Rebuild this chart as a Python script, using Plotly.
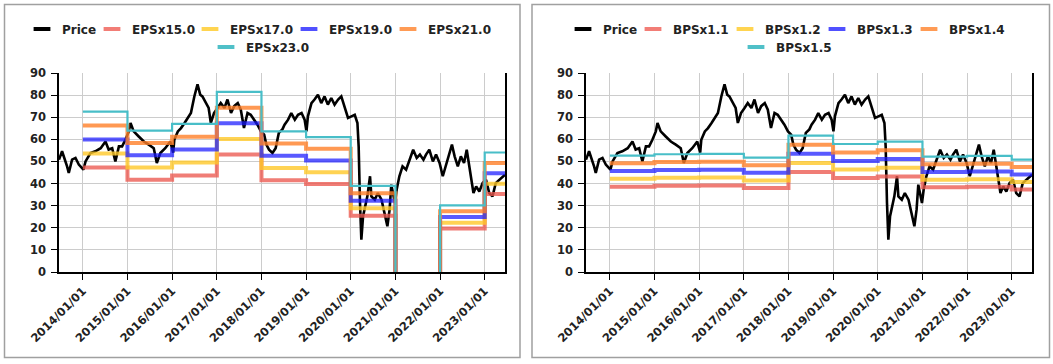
import plotly.graph_objects as go

# ---------------- data ----------------
price_dates = [
    "2013-06-20", "2013-07-15", "2013-08-25", "2013-09-08", "2013-10-05", "2013-11-02", "2013-11-29",
    "2014-01-06", "2014-01-23", "2014-03-04", "2014-04-13", "2014-05-27", "2014-07-05", "2014-07-31",
    "2014-08-29", "2014-09-24", "2014-10-23", "2014-11-18", "2014-12-15",
    "2015-01-12", "2015-01-26", "2015-02-21", "2015-04-01", "2015-05-15", "2015-06-24", "2015-08-04",
    "2015-08-29", "2015-09-27", "2015-11-06", "2015-12-17",
    "2016-01-10", "2016-01-19", "2016-02-17", "2016-03-14", "2016-04-12", "2016-05-08", "2016-06-03",
    "2016-07-01", "2016-07-27", "2016-08-18", "2016-09-05", "2016-09-27", "2016-10-26", "2016-11-13",
    "2016-12-09",
    "2017-01-07", "2017-02-02", "2017-03-04", "2017-03-29", "2017-04-27", "2017-05-23", "2017-06-21",
    "2017-07-16", "2017-08-11", "2017-09-09", "2017-10-05", "2017-11-03", "2017-11-29", "2017-12-28",
    "2018-01-23", "2018-02-10", "2018-03-04", "2018-04-01", "2018-04-27", "2018-05-23", "2018-06-21",
    "2018-07-09", "2018-08-07", "2018-09-02", "2018-10-01", "2018-10-27", "2018-11-25", "2018-12-20",
    "2019-01-04", "2019-01-16", "2019-02-14", "2019-03-11", "2019-04-08", "2019-05-05", "2019-06-01",
    "2019-06-28", "2019-07-26", "2019-08-22", "2019-09-20", "2019-10-16", "2019-11-13", "2019-12-10",
    "2020-01-07", "2020-02-03", "2020-02-25", "2020-03-06", "2020-03-17", "2020-03-28", "2020-04-11",
    "2020-04-24", "2020-05-16", "2020-06-07", "2020-06-18", "2020-07-16", "2020-08-10", "2020-09-09",
    "2020-10-05", "2020-10-27", "2020-11-14", "2020-11-28", "2020-12-28",
    "2021-01-11", "2021-02-02", "2021-02-28", "2021-03-29", "2021-04-24", "2021-05-26", "2021-06-24",
    "2021-07-20", "2021-08-18", "2021-09-08", "2021-10-05", "2021-11-03", "2021-11-29", "2021-12-28",
    "2022-01-23", "2022-02-17", "2022-03-18", "2022-04-08", "2022-04-30", "2022-05-26", "2022-06-20",
    "2022-07-16", "2022-08-07", "2022-09-02", "2022-10-01", "2022-10-23", "2022-11-18", "2022-12-15",
    "2023-01-12", "2023-02-07", "2023-03-06", "2023-04-01", "2023-04-30", "2023-06-16",
]
price = [
    50.8, 54.6, 47.8, 44.8, 50.8, 51.6, 48.6,
    46.3, 50.0, 53.8, 54.6, 56.0, 59.0, 55.4,
    56.0, 50.0, 56.8, 56.8, 59.8,
    63.6, 67.4, 63.6, 61.4, 59.0, 57.6, 56.0,
    49.3, 53.8, 56.0, 59.0,
    54.0, 59.8, 63.6, 65.1, 67.4, 69.7, 71.9,
    79.4, 84.9, 80.2, 79.4, 77.2, 74.2, 67.4,
    71.9,
    74.2, 76.4, 74.2, 78.0, 71.9, 75.0, 76.4,
    73.4, 65.1, 71.9, 71.1, 68.9, 66.6, 63.6,
    62.1, 57.6, 55.3, 53.8, 56.0, 62.9, 64.5,
    66.6, 68.9, 71.9, 68.9, 71.1, 71.9, 68.9,
    63.6, 70.4, 76.4, 78.0, 80.2, 76.4, 79.4,
    75.7, 78.7, 75.7, 78.0, 79.4, 74.2, 69.7,
    70.4, 71.1, 67.4, 56.8, 31.2, 14.6, 25.2,
    28.2, 34.2, 43.3, 34.2, 32.7, 35.7, 32.7,
    26.7, 20.7, 28.2, 39.5, 31.2,
    37.3, 43.3, 47.8, 46.3, 50.8, 55.3, 51.6,
    53.1, 50.8, 53.1, 55.3, 50.0, 53.1, 49.3,
    43.3, 47.8, 53.8, 57.6, 52.3, 47.8, 52.3,
    49.3, 55.3, 46.3, 35.7, 38.7, 36.4, 40.2,
    41.7, 35.7, 34.2, 40.2, 41.7, 44.0,
]

period_starts = ["2014-01-01", "2015-01-01", "2016-01-01", "2017-01-01", "2018-01-01",
                 "2019-01-01", "2020-01-01", "2021-01-01", "2022-01-01", "2023-01-01"]
period_end = "2023-06-16"
eps = [3.153, 2.78, 2.913, 3.54, 2.765, 2.653, 1.695, -0.5, 1.31, 2.35]
eps_mult = [15.0, 17.0, 19.0, 21.0, 23.0]
bps = [35.1, 35.5, 35.6, 34.5, 41.1, 38.6, 39.3, 34.8, 35.0, 33.9]
bps_mult = [1.1, 1.2, 1.3, 1.4, 1.5]
tick_dates = ["2014-01-01", "2015-01-01", "2016-01-01", "2017-01-01", "2018-01-01",
              "2019-01-01", "2020-01-01", "2021-01-01", "2022-01-01", "2023-01-01"]
x_start = "2013-06-20"

# ---------------- styles ----------------
W, H = 1053, 364
line_colors = ["rgba(236,88,80,0.78)", "rgba(255,200,40,0.8)", "rgba(25,25,255,0.72)",
               "rgba(255,128,40,0.8)", "rgb(72,190,200)"]
swatch_colors = ["rgb(242,125,118)", "rgb(255,212,80)", "rgb(80,80,255)",
                 "rgb(255,155,85)", "rgb(80,192,200)"]
line_widths = [4, 4, 4, 4, 2.2]
FONT = "DejaVu Sans"
TXT = "#222222"

fig = go.Figure()

step_x = period_starts + [period_end]


def add_panel(xa, ya, base, mults, label, legend_ids):
    fig.add_trace(go.Scatter(x=price_dates, y=price, mode="lines", xaxis=xa, yaxis=ya,
                             line=dict(color="black", width=2.6), showlegend=False, name="Price"))
    for i, m in enumerate(mults):
        vals = [b * m for b in base]
        fig.add_trace(go.Scatter(x=step_x, y=vals + [vals[-1]], mode="lines", xaxis=xa, yaxis=ya,
                                 line=dict(color=line_colors[i], width=line_widths[i], shape="hv"),
                                 showlegend=False, name=f"{label}x{m}"))
    # legend entries
    names = ["Price"] + [f"{label}x{m}" for m in mults]
    cols = ["black"] + swatch_colors
    for nm, c, lid in zip(names, cols, legend_ids):
        fig.add_trace(go.Scatter(x=[None], y=[None], mode="markers", xaxis=xa, yaxis=ya, name=nm,
                                 legend=lid,
                                 marker=dict(symbol="line-ew", size=12, color=c,
                                             line=dict(width=4, color=c))))


add_panel("x", "y", eps, eps_mult, "EPS", ["legend", "legend2", "legend3", "legend4", "legend5", "legend6"])
add_panel("x2", "y2", bps, bps_mult, "BPS", ["legend7", "legend8", "legend9", "legend10", "legend11", "legend12"])

# legend positions (pixel left edge of swatch, pixel row centre)
leg_pos = [(38, 29), (108, 29), (206, 29), (305, 29), (404, 29), (222, 47),
           (579, 29), (649, 29), (741, 29), (833, 29), (925, 29), (752, 47)]
legend_layout = {}
for k, (px, py) in enumerate(leg_pos):
    key = "legend" if k == 0 else f"legend{k + 1}"
    legend_layout[key] = dict(x=(px - 16) / W, y=1 - py / H, xanchor="left", yanchor="middle",
                              orientation="h", bgcolor="rgba(0,0,0,0)", borderwidth=0,
                              font=dict(family=FONT, size=12, color=TXT, weight="bold"))

xcommon = dict(type="date", range=[x_start, period_end], tickvals=tick_dates, tickformat="%Y/%m/%d",
               tickangle=-45, showgrid=True, gridcolor="#cccccc", gridwidth=1,
               showline=True, linecolor="black", linewidth=1.5, ticks="outside", ticklen=6,
               tickcolor="black", tickfont=dict(family=FONT, size=11.5, color=TXT, weight="bold"),
               zeroline=False, fixedrange=True)
ycommon = dict(range=[0, 90], dtick=10, tick0=0, showgrid=True, gridcolor="#cccccc", gridwidth=1,
               showline=True, mirror=True, linecolor="black", linewidth=1.5, ticks="outside",
               ticklen=6, tickcolor="black", ticklabelstandoff=3,
               tickfont=dict(family=FONT, size=11.5, color=TXT, weight="bold"), zeroline=False,
               fixedrange=True)

yd = [1 - 272 / H, 1 - 73 / H]
fig.update_layout(
    template="none",
    width=W, height=H,
    margin=dict(l=0, r=0, t=0, b=0),
    paper_bgcolor="white", plot_bgcolor="white",
    xaxis=dict(domain=[59 / W, 505 / W], anchor="y", **xcommon),
    yaxis=dict(domain=yd, anchor="x", **ycommon),
    xaxis2=dict(domain=[586 / W, 1032 / W], anchor="y2", **xcommon),
    yaxis2=dict(domain=yd, anchor="x2", **ycommon),
    shapes=[
        dict(type="rect", xref="paper", yref="paper", x0=4.5 / W, x1=520 / W, y0=1 - 357.5 / H,
             y1=1 - 4.5 / H, line=dict(color="#a0a0a0", width=1.5), fillcolor="rgba(0,0,0,0)"),
        dict(type="rect", xref="paper", yref="paper", x0=532 / W, x1=1049.5 / W, y0=1 - 357.5 / H,
             y1=1 - 4.5 / H, line=dict(color="#a0a0a0", width=1.5), fillcolor="rgba(0,0,0,0)"),
    ],
    **legend_layout,
)

fig.write_html("out.html", config={"displayModeBar": False},
               post_script="document.body.style.margin='0px';")
